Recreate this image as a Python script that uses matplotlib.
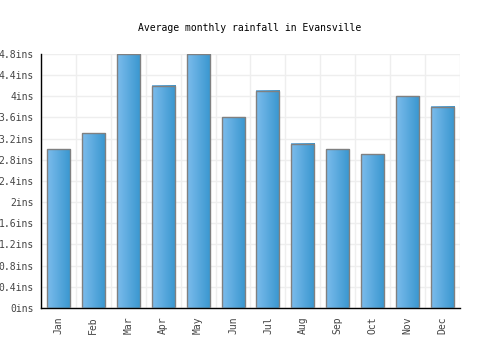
import numpy as np
import matplotlib.pyplot as plt
from matplotlib.colors import LinearSegmentedColormap

months = ['Jan', 'Feb', 'Mar', 'Apr', 'May', 'Jun', 'Jul', 'Aug', 'Sep', 'Oct', 'Nov', 'Dec']
rainfall = [3.0, 3.3, 4.8, 4.2, 4.8, 3.6, 4.1, 3.1, 3.0, 2.9, 4.0, 3.8]
yticks = [0, 0.4, 0.8, 1.2, 1.6, 2.0, 2.4, 2.8, 3.2, 3.6, 4.0, 4.4, 4.8]
ytick_labels = ['0ins', '0.4ins', '0.8ins', '1.2ins', '1.6ins', '2ins', '2.4ins',
                '2.8ins', '3.2ins', '3.6ins', '4ins', '4.4ins', '4.8ins']

plt.rcParams['font.family'] = ['DejaVu Sans Mono']

fig = plt.figure(figsize=(5, 3.5), dpi=100)
ax = fig.add_axes([0.082, 0.12, 0.838, 0.726])

cmap = LinearSegmentedColormap.from_list('bar', ['#7cbcec', '#3896cf'])
grad = np.linspace(0, 1, 64).reshape(1, -1)
width = 0.66
x = np.arange(len(months))

for xi, v in zip(x, rainfall):
    ax.imshow(grad, cmap=cmap, aspect='auto', extent=(xi - width / 2, xi + width / 2, 0, v),
              zorder=2, interpolation='bilinear')
ax.bar(x, rainfall, width=width, facecolor='none', edgecolor='#808080', linewidth=1, zorder=3)

ax.set_xlim(-0.5, len(months) - 0.5)
ax.set_ylim(0, 4.8)
ax.set_yticks(yticks)
ax.set_yticklabels(ytick_labels)
ax.set_xticks(x)
ax.set_xticklabels(months, rotation=90)
ax.set_xticks(np.arange(-0.5, len(months)), minor=True)
ax.grid(True, which='minor', axis='x', color='#eeeeee', linewidth=1, zorder=0)
ax.grid(True, which='major', axis='y', color='#eeeeee', linewidth=1, zorder=0)
ax.tick_params(axis='both', which='both', length=0, labelsize=7, colors='#444444', pad=5)
ax.tick_params(axis='x', pad=6)

for s in ['top', 'right']:
    ax.spines[s].set_visible(False)
for s in ['left', 'bottom']:
    ax.spines[s].set_color('black')
    ax.spines[s].set_linewidth(1)
ax.set_axisbelow(True)

fig.text(0.5, 0.92, 'Average monthly rainfall in Evansville', ha='center', va='center',
         fontsize=7, color='black')

fig.savefig('out.png', dpi=100)
